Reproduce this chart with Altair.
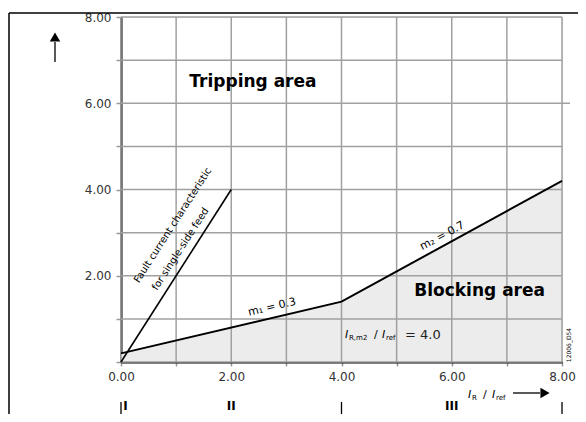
import altair as alt
import pandas as pd

# ---- data ----
blk_x = [0, 4, 8]
blk_y = [0.2, 1.4, 4.2]
fault_x = [0, 2]
fault_y = [0, 4]
grid_vals = [0, 1, 2, 3, 4, 5, 6, 7, 8]
region_marks = [0, 4, 8]
region_labels = ["I", "II", "III"]
region_label_x = [0.08, 2.0, 6.0]

W, H = 441, 345
FONT = "DejaVu Sans"

blk = pd.DataFrame({"x": blk_x, "y": blk_y})
fault = pd.DataFrame({"x": fault_x, "y": fault_y})
grid = pd.DataFrame({"v": grid_vals})
one = pd.DataFrame({"a": [0]})

xs = alt.Scale(domain=[0, 8], nice=False, zero=False)
ys = alt.Scale(domain=[0, 8], nice=False, zero=False)

xaxis = alt.Axis(values=grid_vals, title=None, grid=False, labelFlush=False,
                 labelExpr="datum.value % 2 == 0 ? format(datum.value, '.2f') : ''",
                 tickSize=4, tickColor="#999", tickWidth=1.5,
                 domainColor="black", domainWidth=2,
                 labelFont=FONT, labelFontSize=12, labelColor="#333", labelPadding=5)
yaxis = alt.Axis(values=grid_vals, title=None, grid=False, labelFlush=False,
                 labelExpr="(datum.value % 2 == 0 && datum.value > 0) ? format(datum.value, '.2f') : ''",
                 tickSize=5, tickColor="#999", tickWidth=1.5,
                 domainColor="black", domainWidth=2,
                 labelFont=FONT, labelFontSize=12, labelColor="#333", labelPadding=5)

area = alt.Chart(blk).mark_area(color="#ececec", opacity=1).encode(
    x=alt.X("x:Q", scale=xs, axis=xaxis),
    y=alt.Y("y:Q", scale=ys, axis=yaxis),
)

vgrid = alt.Chart(grid).mark_rule(color="#a0a0a0", strokeWidth=1.5).encode(
    x=alt.X("v:Q", scale=xs))
hgrid = alt.Chart(grid).mark_rule(color="#a0a0a0", strokeWidth=1.5).encode(
    y=alt.Y("v:Q", scale=ys))
gext = alt.Chart(one).mark_rule(color="#a0a0a0", strokeWidth=1.5).encode(
    x=alt.value(W), x2=alt.value(W + 8), y=alt.datum(6, scale=ys))

blk_line = alt.Chart(blk).mark_line(color="black", strokeWidth=2).encode(
    x=alt.X("x:Q", scale=xs), y=alt.Y("y:Q", scale=ys))
fault_line = alt.Chart(fault).mark_line(color="black", strokeWidth=1.6).encode(
    x=alt.X("x:Q", scale=xs), y=alt.Y("y:Q", scale=ys))

def txt(s, x, y, size=12, bold=False, angle=0, align="center", italic=False,
        color="black"):
    kw = dict(text=s, fontSize=size, font=FONT, align=align, baseline="middle",
              color=color, angle=angle)
    if bold:
        kw["fontWeight"] = "bold"
    if italic:
        kw["fontStyle"] = "italic"
    return alt.Chart(one).mark_text(**kw).encode(x=x, y=y)

D = lambda v: alt.datum(v, scale=xs)
E = lambda v: alt.datum(v, scale=ys)
V = alt.value

texts = [
    txt("Tripping area", D(1.24), E(6.49), size=17, bold=True, align="left"),
    txt("Blocking area", D(5.32), E(1.64), size=17, bold=True, align="left"),
    txt("m\u2081 = 0.3", D(2.74), E(1.27), size=11, angle=346.9),
    txt("m\u2082 = 0.7", D(5.83), E(2.92), size=11, angle=331.5),
    txt("Fault current characteristic", D(0.94), E(3.17), size=10, angle=302.8),
    txt("for single-side feed", D(1.08), E(2.62), size=10, angle=302.8),
    # I_R,m2 / I_ref = 4.0
    txt("I", V(224), V(318), size=11, italic=True, align="left"),
    txt("R,m2", V(228), V(321), size=7, align="left"),
    txt("/", V(253), V(318), size=11, align="left"),
    txt("I", V(261), V(318), size=11, italic=True, align="left"),
    txt("ref", V(265), V(321), size=7, align="left"),
    txt("= 4.0", V(284), V(318), size=13, align="left", color="#222"),
    # axis label I_R / I_ref
    txt("I", V(347), V(378), size=11, italic=True, align="left"),
    txt("R", V(351), V(381), size=7, align="left"),
    txt("/", V(362), V(378), size=11, align="left"),
    txt("I", V(371), V(378), size=11, italic=True, align="left"),
    txt("ref", V(375), V(381), size=7, align="left"),
    txt("12006_D54", V(W + 7), V(H - 17), size=6, angle=270),
]

# arrows
x_arrow = alt.Chart(one).mark_rule(color="black", strokeWidth=1.3).encode(
    x=V(392), x2=V(419), y=V(376))
x_head = alt.Chart(one).mark_point(shape="triangle-right", filled=True, color="black",
                                    size=110, opacity=1).encode(x=V(424), y=V(376))
y_arrow = alt.Chart(one).mark_rule(color="black", strokeWidth=1.3).encode(
    x=V(-66), y=V(25), y2=V(45))
y_head = alt.Chart(one).mark_point(shape="triangle-up", filled=True, color="black",
                                    size=110, opacity=1).encode(x=V(-66), y=V(20))

# frame
frame_l = alt.Chart(one).mark_rule(color="black", strokeWidth=1.5).encode(
    x=V(-112), y=V(-4), y2=V(H + 60))
frame_t = alt.Chart(one).mark_rule(color="black", strokeWidth=1.5).encode(
    x=V(-112), x2=V(W + 30), y=V(-4))

# region markers under the axis
rm = pd.DataFrame({"x": region_marks})
reg_rules = alt.Chart(rm).mark_rule(color="black", strokeWidth=1.3).encode(
    x=alt.X("x:Q", scale=xs), y=V(385), y2=V(H + 60))
rl = pd.DataFrame({"x": region_label_x, "t": region_labels})
reg_text = alt.Chart(rl).mark_text(font=FONT, fontSize=12, fontWeight="bold",
                                   baseline="bottom", color="black").encode(
    x=alt.X("x:Q", scale=xs), y=V(396), text="t:N")

chart = alt.layer(
    area, vgrid, hgrid, gext, blk_line, fault_line, *texts,
    x_arrow, x_head, y_arrow, y_head, frame_l, frame_t, reg_rules, reg_text,
).properties(
    width=W, height=H,
    autosize=alt.AutoSizeParams(type="none"),
    padding={"left": 113, "top": 9, "right": 16, "bottom": 52},
).configure_view(stroke="black", strokeWidth=2).configure(background="white")

chart.save("out.html", embed_options={"renderer": "svg", "actions": False})
